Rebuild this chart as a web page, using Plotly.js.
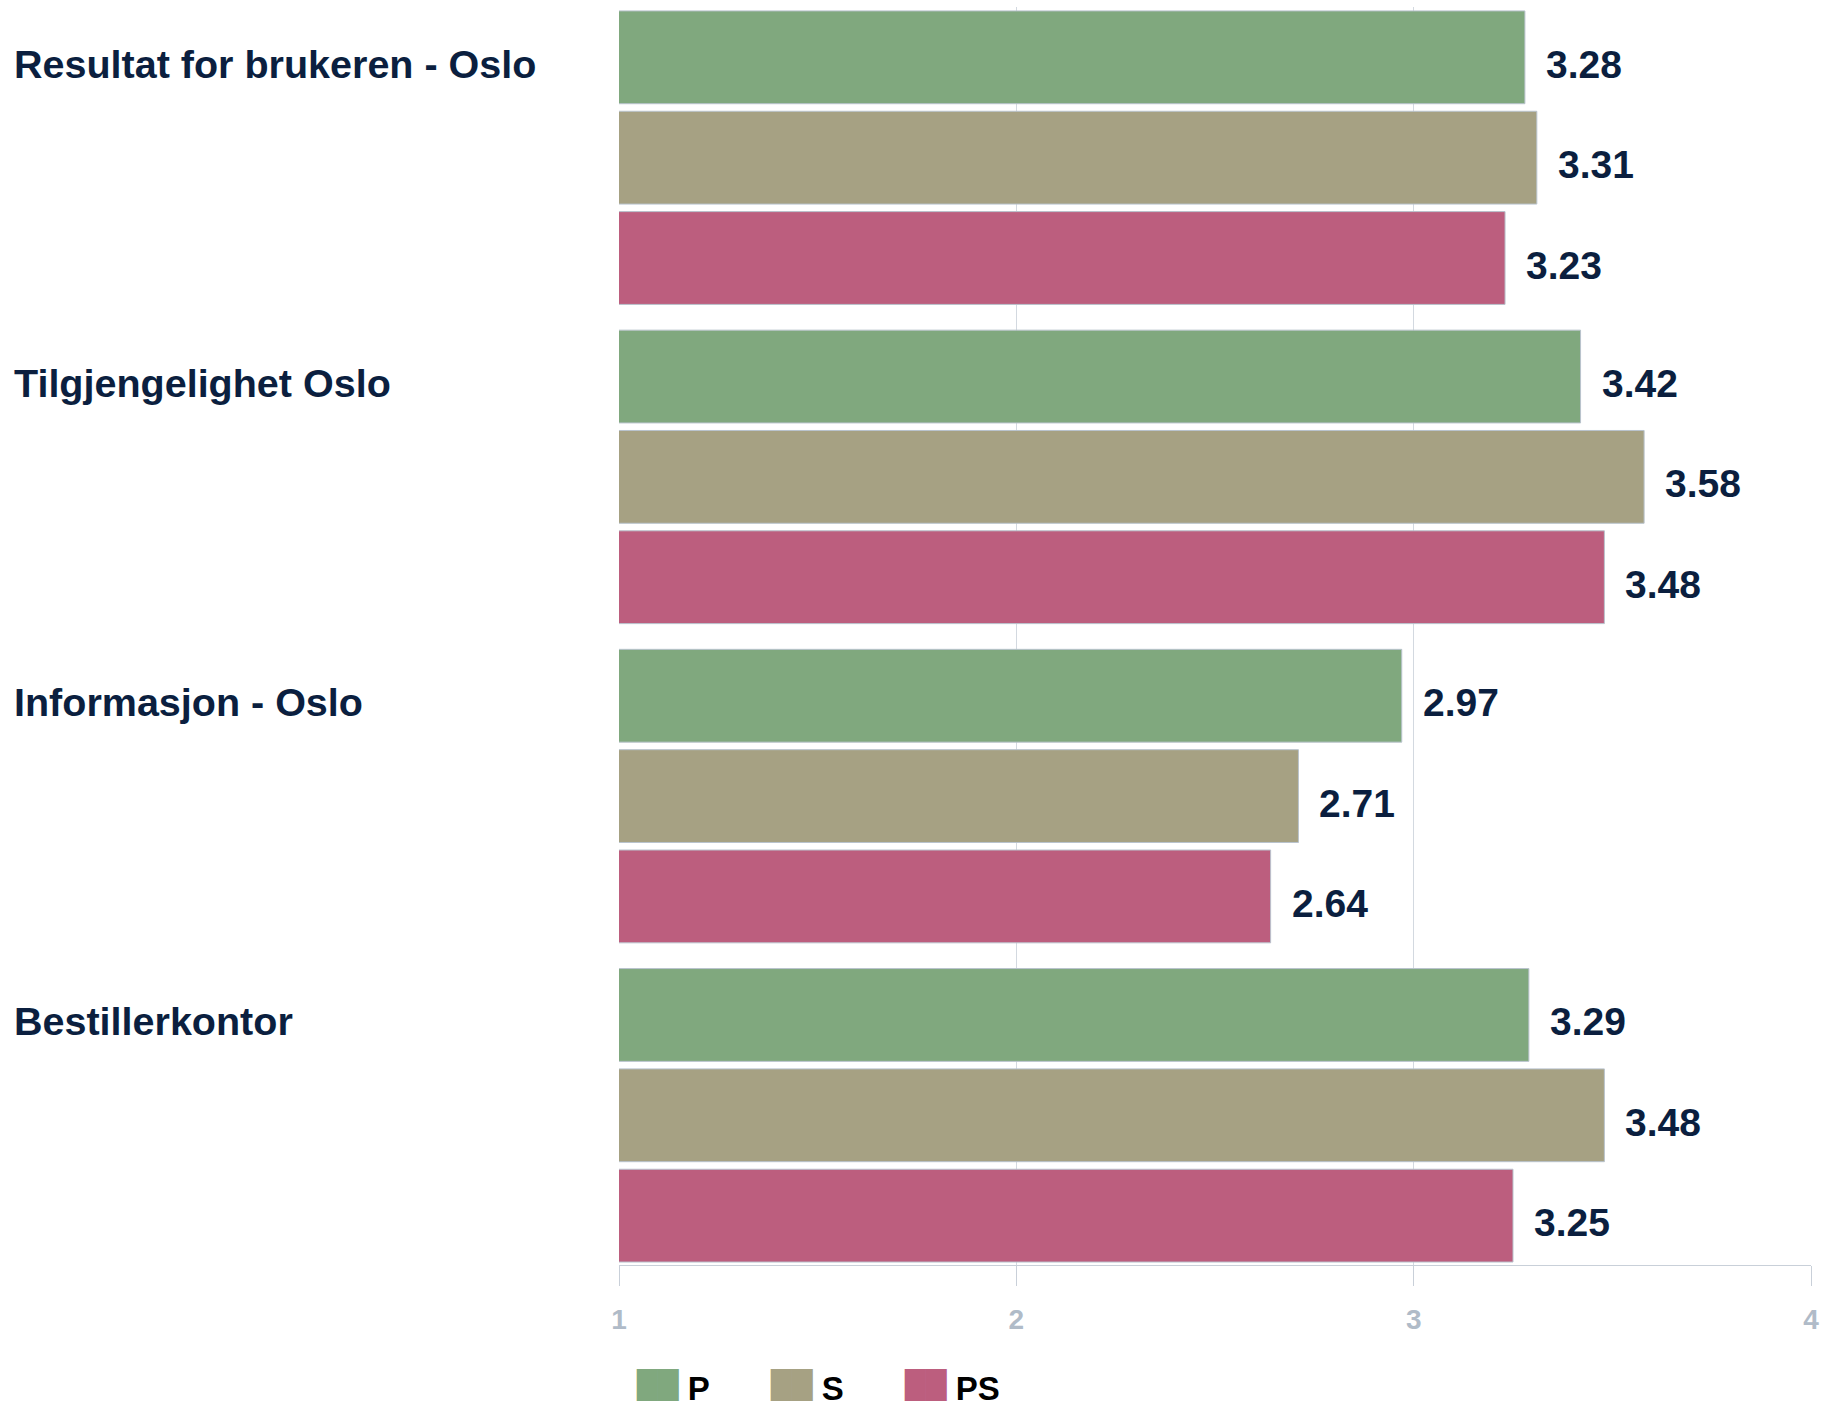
<!DOCTYPE html>
<html>
<head>
<meta charset="utf-8">
<script src="https://cdn.plot.ly/plotly-3.0.1.min.js"></script>
<style>html,body{margin:0;padding:0;background:#fff;}#chart{width:1833px;height:1408px;}</style>
</head>
<body>
<div id="chart"></div>
<script>
const categories = ["Resultat for brukeren - Oslo", "Tilgjengelighet Oslo", "Informasjon - Oslo", "Bestillerkontor"];
const seriesNames = ["P", "S", "PS"];
const valuesP = [3.28, 3.42, 2.97, 3.29];
const valuesS = [3.31, 3.58, 2.71, 3.48];
const valuesPS = [3.23, 3.48, 2.64, 3.25];
const tickValues = [1, 2, 3, 4];
const tickLabels = ["1", "2", "3", "4"];

const colors = ["#80A87E", "#A6A183", "#BC5E7E"];
const seriesValues = [valuesP, valuesS, valuesPS];
const FONT = "'Liberation Sans', Arial, Helvetica, sans-serif";
const NAVY = "#0B1F3F";
const BARGAP = 0.057;
const BARGROUPGAP = 0.075;
const nSeries = seriesValues.length;
const slot = (1 - BARGAP) / nSeries;

const traces = seriesValues.map((vals, i) => ({
  type: "bar",
  orientation: "h",
  name: seriesNames[i],
  x: vals,
  y: categories,
  showlegend: false,
  marker: { color: colors[i], line: { color: "#B9C3CD", width: 1 } },
  hoverinfo: "x+name"
}));

// legend-only entries with large colour swatches
seriesNames.forEach((n, i) => {
  traces.push({
    type: "scatter",
    mode: "markers",
    x: [null], y: [null],
    name: '<span style="font-family:DejaVu Sans;font-size:27px;baseline-shift:6px;color:' + colors[i] + '">\u2588\u2588</span> ' + n,
    marker: { color: "rgba(0,0,0,0)", size: 1 },
    showlegend: true,
    hoverinfo: "skip"
  });
});

const annotations = categories.map(c => ({
  xref: "paper", yref: "y",
  x: -0.509, y: c,
  xanchor: "left", yanchor: "middle",
  yshift: 94,
  showarrow: false,
  text: c,
  font: { family: FONT, size: 39.5, color: NAVY, weight: "bold" }
}));

seriesValues.forEach((vals, i) => {
  vals.forEach((v, j) => {
    annotations.push({
      xref: "x", yref: "y",
      x: v, y: j + (i - (nSeries - 1) / 2) * slot,
      xanchor: "left", yanchor: "middle",
      xshift: 19, yshift: -7,
      showarrow: false,
      text: v.toFixed(2),
      font: { family: FONT, size: 39, color: NAVY, weight: "bold" }
    });
  });
});

const layout = {
  width: 1833, height: 1408,
  margin: { l: 619, r: 22, t: 7, b: 143, pad: 0, autoexpand: false },
  paper_bgcolor: "#ffffff",
  plot_bgcolor: "#ffffff",
  barmode: "group",
  bargap: BARGAP,
  bargroupgap: BARGROUPGAP,
  showlegend: true,
  legend: {
    orientation: "h",
    x: -0.0185, xanchor: "left",
    y: -0.0972, yanchor: "middle",
    traceorder: "normal",
    entrywidth: 89,
    font: { family: FONT, size: 33, color: "#000000", weight: "bold" }
  },
  xaxis: {
    range: [1, 4],
    tickvals: tickValues,
    ticktext: tickLabels,
    showgrid: true,
    gridcolor: "#D3D9E0",
    gridwidth: 1,
    zeroline: false,
    showline: true,
    linecolor: "#C9D0D9",
    linewidth: 1,
    ticks: "outside",
    ticklen: 20,
    tickcolor: "#C9D0D9",
    ticklabelstandoff: 9,
    tickfont: { family: FONT, size: 28, color: "#B0BBC8", weight: "bold" }
  },
  yaxis: {
    type: "category",
    range: [3.469, -0.472],
    autorange: false,
    showgrid: false,
    zeroline: false,
    showline: false,
    showticklabels: false,
    ticks: ""
  },
  annotations: annotations
};

Plotly.newPlot("chart", traces, layout, { displayModeBar: false, staticPlot: true });
</script>
</body>
</html>
